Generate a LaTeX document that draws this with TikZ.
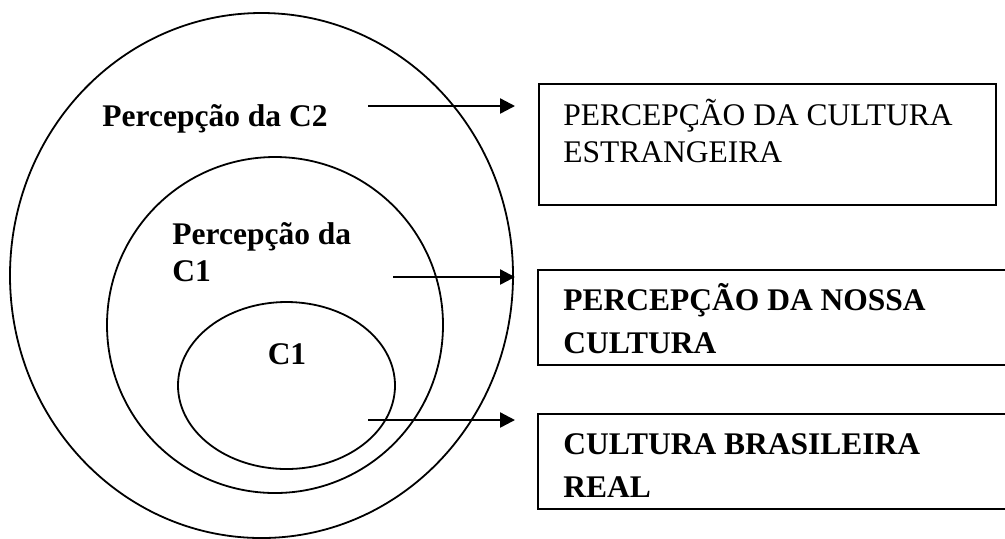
\documentclass[tikz,border=0pt]{standalone}
\usepackage{fontspec}
\setmainfont{Liberation Serif}
\usetikzlibrary{shapes.geometric,arrows.meta}
\tikzset{
  ring/.style={ellipse,draw,line width=0.9pt,inner sep=0pt},
  box/.style={rectangle,draw,line width=0.9pt,inner sep=0pt,anchor=north west},
  lbl/.style={anchor=base west,inner sep=0pt,align=left,font=\fontsize{15.75pt}{18.5pt}\selectfont\bfseries},
  boxtxt/.style={anchor=base west,inner sep=0pt,align=left,font=\fontsize{15.75pt}{21.5pt}\selectfont},
  conn/.style={line width=1.2pt,-{Triangle[length=7.5pt,width=7.5pt]}},
}
\begin{document}
\begin{tikzpicture}[x=0.5pt,y=-0.5pt]%
\clip (0,0) rectangle (1005,538);%
% circles
\node [ring,minimum width=251.5pt,minimum height=262.5pt] (outer) at (261.5,275.5) {};%
\node [ring,minimum width=168pt,minimum height=168pt] (middle) at (275,325) {};%
\node [ring,minimum width=108.5pt,minimum height=83.5pt] (inner) at (286.5,385.5) {};%
\node [lbl] (lc2) at (102,126) {Percepção da C2};%
\node [lbl] (lc1) at (172,281) {Percepção da\\C1};%
\node [lbl,anchor=base] (c1) at (287,364) {C1};%
% boxes
\node [box,minimum width=228.5pt,minimum height=60.5pt] (b1) at (538,83) {};%
\node [box,minimum width=239pt,minimum height=47.5pt] (b2) at (537,269) {};%
\node [box,minimum width=239pt,minimum height=47.5pt] (b3) at (537,413) {};%
\node [boxtxt,font=\fontsize{15.75pt}{18.5pt}\selectfont] (t1) at ([shift={(12.5pt,-39.5pt)}]b1.north west) {PERCEPÇÃO DA CULTURA\\ESTRANGEIRA};%
\node [boxtxt,font=\fontsize{15.75pt}{21.5pt}\selectfont\bfseries] (t2) at ([shift={(13pt,-42pt)}]b2.north west) {PERCEPÇÃO DA NOSSA\\CULTURA};%
\node [boxtxt,font=\fontsize{15.75pt}{21.5pt}\selectfont\bfseries] (t3) at ([shift={(13pt,-42pt)}]b3.north west) {CULTURA BRASILEIRA\\REAL};%
% arrows
\coordinate (s1) at (368,106);%
\coordinate (s2) at (393,277);%
\coordinate (s3) at (368,420);%
\draw [conn] (s1) -- ([xshift=-11.5pt]b1.west |- s1);%
\draw [conn] (s2) -- ([xshift=-11pt]b2.west |- s2);%
\draw [conn] (s3) -- ([xshift=-11pt]b3.west |- s3);%
\end{tikzpicture}
\end{document}
